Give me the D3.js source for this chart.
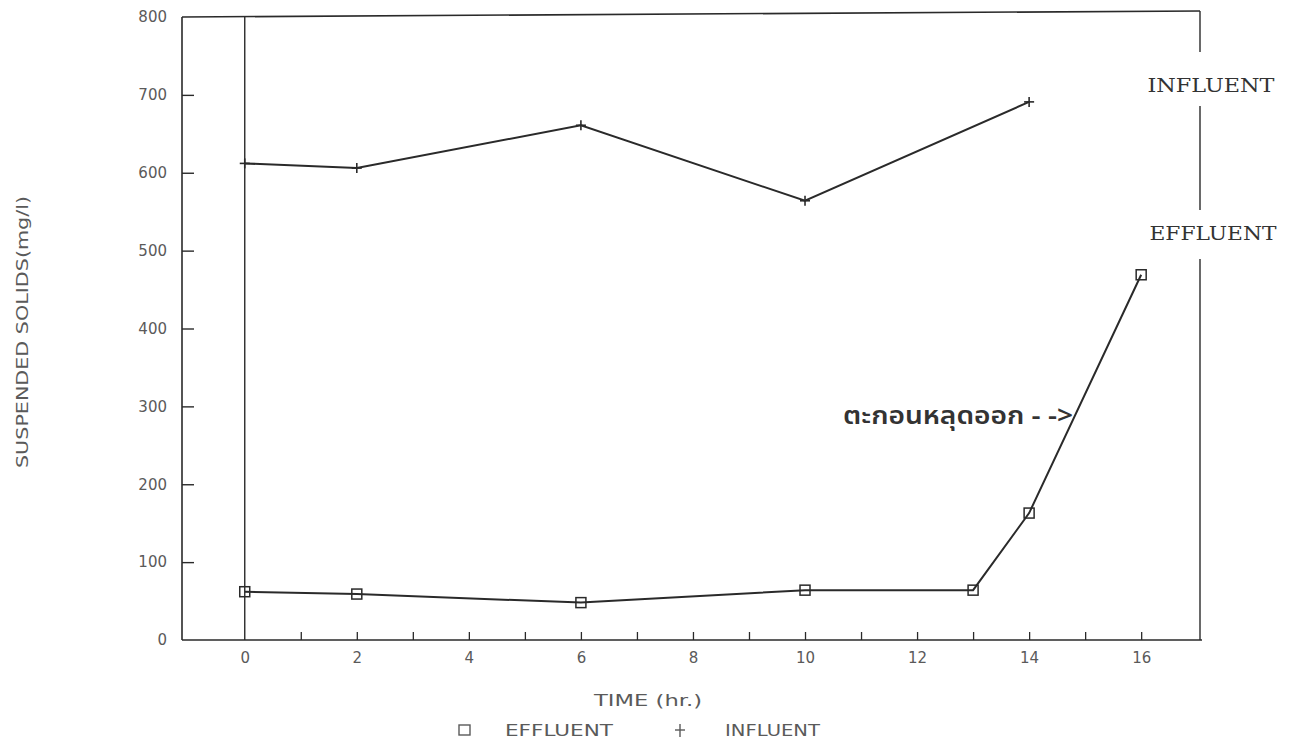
<!DOCTYPE html>
<html>
<head>
<meta charset="utf-8">
<script src="https://cdn.jsdelivr.net/npm/d3@7"></script>
<style>
  html, body { margin: 0; padding: 0; background: #fff; }
  svg { display: block; }
</style>
</head>
<body>
<svg id="chart" width="1293" height="744"></svg>
<script>
// ---- data ----
const effluentHours = [0, 2, 6, 10, 13, 14, 16];
const effluentValues = [62, 59, 48, 64, 64, 163, 469];
const influentHours = [0, 2, 6, 10, 14];
const influentValues = [612, 606, 661, 564, 691];
const yTickValues = [0, 100, 200, 300, 400, 500, 600, 700, 800];
const xTickValues = [0, 2, 4, 6, 8, 10, 12, 14, 16];
const xMinorTicks = [1, 2, 3, 4, 5, 6, 7, 8, 9, 10, 11, 12, 13, 14, 15, 16];
const seriesNames = ["EFFLUENT", "INFLUENT"];
const annotationText = "ตะกอนหลุดออก - ->";
const annotationAt = { hour: 10.68, value: 278 };
const xTitle = "TIME (hr.)";
const yTitle = "SUSPENDED SOLIDS(mg/l)";

// ---- layout ----
const svg = d3.select("#chart");
const L = 182, R = 1200, T = 17, B = 640;
const x = d3.scaleLinear().domain([-1.12, 17.05]).range([L, R]);
const y = d3.scaleLinear().domain([0, 800]).range([B, T]);
const ink = "#2a2a2a";
const grey = "#5a5a5a";
const plotFont = "DejaVu Sans, sans-serif";

const g = svg.append("g");

// frame: left, top, bottom
g.append("line").attr("x1", L).attr("x2", L).attr("y1", T).attr("y2", B)
  .attr("stroke", ink).attr("stroke-width", 1.6);
g.append("line").attr("x1", L).attr("x2", R).attr("y1", T).attr("y2", T - 6)
  .attr("stroke", ink).attr("stroke-width", 1.6);
g.append("line").attr("x1", L).attr("x2", R + 2).attr("y1", B).attr("y2", B)
  .attr("stroke", ink).attr("stroke-width", 1.6);
// right frame with gaps around the labels
[[T - 6, 52], [106, 210], [259, B]].forEach(([a, b]) => {
  g.append("line").attr("x1", R).attr("x2", R).attr("y1", a).attr("y2", b)
    .attr("stroke", ink).attr("stroke-width", 1.4);
});
// vertical line at time zero
g.append("line").attr("x1", x(0)).attr("x2", x(0)).attr("y1", T - 1).attr("y2", B)
  .attr("stroke", ink).attr("stroke-width", 1.4);

// y axis
const yAxis = d3.axisLeft(y).tickValues(yTickValues).tickSize(-12).tickPadding(15)
  .tickFormat(d3.format("d"));
const ya = g.append("g").attr("transform", `translate(${L},0)`).call(yAxis);
ya.select(".domain").remove();
ya.selectAll(".tick line").attr("stroke", ink).attr("stroke-width", 1.4)
  .filter(d => d === 0 || d === 800).remove();
ya.selectAll(".tick text").attr("font-family", plotFont)
  .attr("font-size", 15).attr("fill", grey);

// x axis: minor ticks
const xAxisTicks = d3.axisBottom(x).tickValues(xMinorTicks).tickSize(-8).tickFormat("");
const xt = g.append("g").attr("transform", `translate(0,${B})`).call(xAxisTicks);
xt.select(".domain").remove();
xt.selectAll(".tick line").attr("stroke", ink).attr("stroke-width", 1.3);
// x axis labels
const xAxisLabels = d3.axisBottom(x).tickValues(xTickValues).tickSize(0).tickPadding(12)
  .tickFormat(d3.format("d"));
const xl = g.append("g").attr("transform", `translate(0,${B})`).call(xAxisLabels);
xl.select(".domain").remove();
xl.selectAll(".tick text").attr("font-family", plotFont)
  .attr("font-size", 15).attr("fill", grey);

// axis titles
g.append("text").attr("x", 648).attr("y", 706).attr("text-anchor", "middle")
  .attr("font-family", plotFont).attr("font-size", 15)
  .attr("fill", grey).attr("textLength", 108).attr("lengthAdjust", "spacingAndGlyphs").text(xTitle);
g.append("text").attr("transform", "translate(28,332) rotate(-90)").attr("text-anchor", "middle")
  .attr("font-family", plotFont).attr("font-size", 15)
  .attr("fill", grey).attr("textLength", 272).attr("lengthAdjust", "spacingAndGlyphs").text(yTitle);

// lines
const line = d3.line().x(d => x(d[0])).y(d => y(d[1]));
const eff = effluentHours.map((h, i) => [h, effluentValues[i]]);
const inf = influentHours.map((h, i) => [h, influentValues[i]]);
g.append("path").datum(eff).attr("d", line).attr("fill", "none")
  .attr("stroke", ink).attr("stroke-width", 2);
g.append("path").datum(inf).attr("d", line).attr("fill", "none")
  .attr("stroke", ink).attr("stroke-width", 2);

// markers
const sq = 10;
g.selectAll(".effm").data(eff).enter().append("rect")
  .attr("x", d => x(d[0]) - sq / 2).attr("y", d => y(d[1]) - sq / 2)
  .attr("width", sq).attr("height", sq)
  .attr("fill", "none").attr("stroke", ink).attr("stroke-width", 1.5);
const pl = 5;
const infm = g.selectAll(".infm").data(inf).enter().append("g")
  .attr("transform", d => `translate(${x(d[0])},${y(d[1])})`);
infm.append("line").attr("x1", -pl).attr("x2", pl).attr("stroke", ink).attr("stroke-width", 1.6);
infm.append("line").attr("y1", -pl).attr("y2", pl).attr("stroke", ink).attr("stroke-width", 1.6);

// right-hand series labels
g.append("text").attr("x", 1211).attr("y", 92).attr("text-anchor", "middle")
  .attr("font-family", "DejaVu Serif, serif").attr("font-size", 19)
  .attr("fill", "#333").attr("textLength", 127).attr("lengthAdjust", "spacingAndGlyphs")
  .text(seriesNames[1]);
g.append("text").attr("x", 1213).attr("y", 240).attr("text-anchor", "middle")
  .attr("font-family", "DejaVu Serif, serif").attr("font-size", 19)
  .attr("fill", "#333").attr("textLength", 127).attr("lengthAdjust", "spacingAndGlyphs")
  .text(seriesNames[0]);

// annotation
g.append("text").attr("x", x(annotationAt.hour)).attr("y", y(annotationAt.value))
  .attr("text-anchor", "start")
  .attr("font-family", "Noto Sans Thai, Noto Sans, DejaVu Sans, sans-serif")
  .attr("font-size", 25).attr("font-weight", 600).attr("fill", "#333")
  .attr("textLength", 230).attr("lengthAdjust", "spacingAndGlyphs")
  .text(annotationText);

// legend
const legY = 736;
g.append("rect").attr("x", 459).attr("y", legY - 11).attr("width", 11).attr("height", 10)
  .attr("fill", "none").attr("stroke", grey).attr("stroke-width", 1.4);
g.append("text").attr("x", 505).attr("y", legY).attr("font-family", plotFont)
  .attr("font-size", 15).attr("fill", grey).attr("textLength", 108).attr("lengthAdjust", "spacingAndGlyphs")
  .text(seriesNames[0]);
const lp = g.append("g").attr("transform", `translate(680,${legY - 6})`);
lp.append("line").attr("x1", -5).attr("x2", 5).attr("stroke", grey).attr("stroke-width", 1.4);
lp.append("line").attr("y1", -6).attr("y2", 7).attr("stroke", grey).attr("stroke-width", 1.4);
g.append("text").attr("x", 725).attr("y", legY).attr("font-family", plotFont)
  .attr("font-size", 15).attr("fill", grey).attr("textLength", 95).attr("lengthAdjust", "spacingAndGlyphs")
  .text(seriesNames[1]);
</script>
</body>
</html>
